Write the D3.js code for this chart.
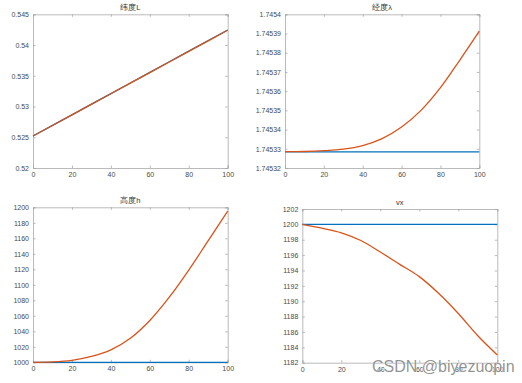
<!DOCTYPE html>
<html><head><meta charset="utf-8">
<script src="https://cdn.jsdelivr.net/npm/d3@7"></script>
<style>body{margin:0;background:#fff}svg{display:block}</style>
</head><body>
<svg id="c" width="522" height="383"></svg>
<script>
const xs = [0,10,20,30,40,50,60,70,80,90,100];
const xTicks = [0,20,40,60,80,100];

// Panel 1: latitude L
const latBlue   = [0.5252,0.52693,0.52865,0.53038,0.5321,0.53383,0.53555,0.53728,0.539,0.54073,0.54245];
const latOrange = [0.5252,0.52692,0.52864,0.53036,0.53208,0.5338,0.53552,0.53724,0.53896,0.54068,0.5424];
const latTicks  = [0.52,0.525,0.53,0.535,0.54,0.545];
const latTickLabels = ["0.52","0.525","0.53","0.535","0.54","0.545"];

// Panel 2: longitude λ
const lonBlue   = [1.7453284,1.7453284,1.7453284,1.7453284,1.7453284,1.7453284,1.7453284,1.7453284,1.7453284,1.7453284,1.7453284];
const lonOrange = [1.7453285,1.7453286,1.7453290,1.7453298,1.7453317,1.7453353,1.7453413,1.7453500,1.7453618,1.7453762,1.7453912];
const lonTicks  = [1.74532,1.74533,1.74534,1.74535,1.74536,1.74537,1.74538,1.74539,1.7454];
const lonTickLabels = ["1.74532","1.74533","1.74534","1.74535","1.74536","1.74537","1.74538","1.74539","1.7454"];

// Panel 3: height h
const hBlue   = [1000,1000,1000,1000,1000,1000,1000,1000,1000,1000,1000];
const hOrange = [1000,1000.5,1002.5,1007.5,1016,1031,1054,1084,1119,1157,1195];
const hTicks  = [1000,1020,1040,1060,1080,1100,1120,1140,1160,1180,1200];
const hTickLabels = hTicks.map(String);

// Panel 4: vx
const vBlue   = [1200,1200,1200,1200,1200,1200,1200,1200,1200,1200,1200];
const vOrange = [1200,1199.5,1198.9,1197.9,1196.4,1194.8,1193.2,1191.0,1188.4,1185.5,1183.0];
const vTicks  = [1182,1184,1186,1188,1190,1192,1194,1196,1198,1200,1202];
const vTickLabels = vTicks.map(String);

const BLUE = "#0072BD", ORANGE = "#D95319";
const svg = d3.select("#c");

const panels = [
  {title:"纬度L", box:[33,14.3,227.7,168], dom:[0.52,0.545], ticks:latTicks, labels:latTickLabels, blue:latBlue, orange:latOrange, ty:10, curve:d3.curveLinear},
  {title:"经度λ", box:[285,14.3,479.3,168], dom:[1.74532,1.7454], ticks:lonTicks, labels:lonTickLabels, blue:lonBlue, orange:lonOrange, ty:10, curve:d3.curveCatmullRom},
  {title:"高度h", box:[33,207.3,227.7,362.3], dom:[1000,1200], ticks:hTicks, labels:hTickLabels, blue:hBlue, orange:hOrange, ty:203, curve:d3.curveCatmullRom},
  {title:"vx", box:[302.3,209,497.3,362.7], dom:[1182,1202], ticks:vTicks, labels:vTickLabels, blue:vBlue, orange:vOrange, ty:205, curve:d3.curveMonotoneX}
];

const font = "Liberation Sans, Arial, sans-serif";
panels.forEach(p => {
  const [l,t,r,b] = p.box;
  const x = d3.scaleLinear().domain([0,100]).range([l,r]);
  const y = d3.scaleLinear().domain(p.dom).range([b,t]);
  const g = svg.append("g");
  const tl = 2.5;
  const ax = [
    {a:d3.axisBottom(x).tickValues(xTicks).tickSize(-tl).tickPadding(4).tickFormat(d=>d), tr:`translate(0,${b})`},
    {a:d3.axisTop(x).tickValues(xTicks).tickSize(-tl).tickFormat(""), tr:`translate(0,${t})`},
    {a:d3.axisLeft(y).tickValues(p.ticks).tickSize(-tl).tickPadding(4).tickFormat((d,i)=>p.labels[i]), tr:`translate(${l},0)`},
    {a:d3.axisRight(y).tickValues(p.ticks).tickSize(-tl).tickFormat(""), tr:`translate(${r},0)`}
  ];
  ax.forEach(o => {
    const ag = g.append("g").attr("transform", o.tr).call(o.a);
    ag.select(".domain").attr("stroke","#a8a8a8").attr("stroke-width",0.8);
    ag.selectAll(".tick line").attr("stroke","#a8a8a8").attr("stroke-width",0.8);
    ag.selectAll(".tick text").attr("fill","#4a4a4a").style("font-family",font).style("font-size","7px");
  });
  const line = d3.line().x((d,i)=>x(xs[i])).y(d=>y(d)).curve(p.curve);
  g.append("path").attr("d", line(p.blue)).attr("fill","none").attr("stroke",BLUE).attr("stroke-width",1.3);
  g.append("path").attr("d", line(p.orange)).attr("fill","none").attr("stroke",ORANGE).attr("stroke-width",1.3);
  g.append("text").attr("x",(l+r)/2).attr("y",p.ty).attr("text-anchor","middle")
    .style("font-family",font).style("font-size","7.5px").attr("fill","#333").text(p.title);
});

svg.append("text").attr("x",372).attr("y",372)
  .style("font-family",font).style("font-size","16px")
  .attr("fill","#808080").attr("fill-opacity",0.85)
  .attr("stroke","#fff").attr("stroke-width",0.6).attr("paint-order","stroke")
  .text("CSDN @biyezuopin");
</script>
</body></html>
